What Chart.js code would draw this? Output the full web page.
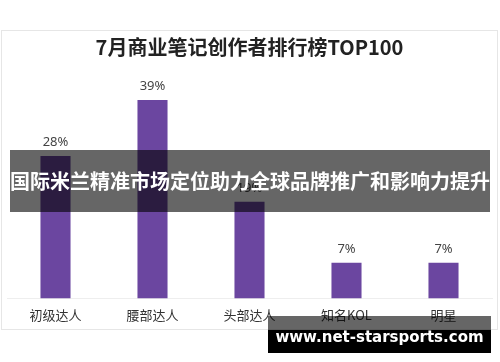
<!DOCTYPE html>
<html>
<head>
<meta charset="utf-8">
<script src="https://cdn.jsdelivr.net/npm/chart.js@4.4.0/dist/chart.umd.min.js"></script>
<style>
  html, body { margin: 0; padding: 0; background: #fff; }
  #wrap { position: relative; width: 500px; height: 362px; overflow: hidden; }
  #card {
    position: absolute; left: 1px; top: 30px; width: 495px; height: 298px;
    border: 1px solid #e6e6e6; box-sizing: content-box;
  }
  #chart { position: absolute; left: 0; top: 0; }
  #banner {
    position: absolute; left: 10px; top: 150px; width: 480px; height: 62px;
    background: rgba(0, 0, 0, 0.6); color: #fff;
    font: bold 20px "Noto Sans CJK SC", sans-serif;
    line-height: 62px; text-align: center; white-space: nowrap;
  }
  #markTop {
    position: absolute; left: 268px; top: 316px; width: 223px; height: 14px;
    background: rgba(0, 0, 0, 0.6);
  }
  #mark {
    position: absolute; left: 268px; top: 330px; width: 223px; height: 23px;
    background: #000;
  }
  #markText {
    position: absolute; left: 268px; top: 316px; width: 223px; height: 37px;
    color: #fff; font: bold 15px "DejaVu Sans", sans-serif;
    line-height: 42px; text-align: center; white-space: nowrap;
  }
</style>
</head>
<body>
<div id="wrap">
  <div id="card"></div>
  <canvas id="chart" width="500" height="362"></canvas>
  <div id="banner">国际米兰精准市场定位助力全球品牌推广和影响力提升</div>
  <div id="markTop"></div>
  <div id="mark"></div>
  <div id="markText">www.net-starsports.com</div>
</div>
<script>
// chart data
const categories = ['初级达人', '腰部达人', '头部达人', '知名KOL', '明星'];
const shares = [28, 39, 19, 7, 7];
const chartTitle = '7月商业笔记创作者排行榜TOP100';

// draws "xx%" above each bar
const valueLabels = {
  id: 'valueLabels',
  afterDatasetsDraw(chart) {
    const ctx = chart.ctx;
    const meta = chart.getDatasetMeta(0);
    ctx.save();
    ctx.font = '13px "Noto Sans", sans-serif';
    ctx.fillStyle = '#444';
    ctx.textAlign = 'center';
    ctx.textBaseline = 'bottom';
    meta.data.forEach((bar, i) => {
      ctx.fillText(shares[i] + '%', bar.x, bar.y - 7);
    });
    ctx.restore();
  }
};

new Chart(document.getElementById('chart'), {
  type: 'bar',
  data: {
    labels: categories,
    datasets: [{
      data: shares,
      backgroundColor: '#6b46a0',
      borderWidth: 0,
      barPercentage: 0.62,
      categoryPercentage: 0.5
    }]
  },
  options: {
    responsive: false,
    animation: false,
    layout: { padding: { left: 7, right: 8, top: 35, bottom: 30 } },
    plugins: {
      legend: { display: false },
      tooltip: { enabled: false },
      title: {
        display: true,
        text: chartTitle,
        color: '#222',
        font: { family: '"Noto Sans CJK SC", sans-serif', size: 20, weight: 'bold' },
        padding: { top: 0, bottom: 36 }
      }
    },
    scales: {
      x: {
        grid: { display: false, drawTicks: false },
        border: { display: true, color: '#eeeeee' },
        ticks: {
          color: '#333',
          padding: 9,
          font: { family: '"Noto Sans CJK SC", sans-serif', size: 13 }
        }
      },
      y: {
        display: false,
        min: 0,
        max: 40
      }
    }
  },
  plugins: [valueLabels]
});
</script>
</body>
</html>
